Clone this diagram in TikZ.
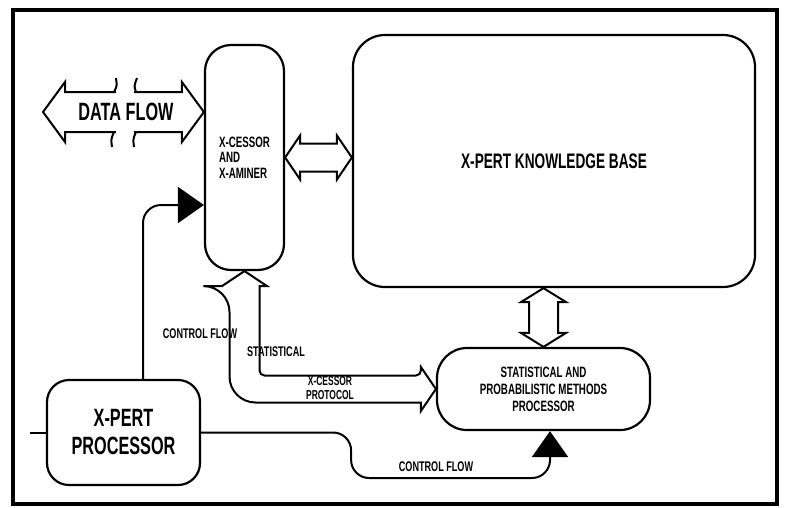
\documentclass[tikz,border=0pt]{standalone}
\usepackage{fontspec}
\setmainfont{Liberation Sans}[FakeStretch=0.65]
\usetikzlibrary{arrows.meta,calc,positioning}

% hollow double arrow: start tip, end tip, half body, half head, head length
\newcommand{\hollowarrow}[5]{%
  \coordinate (ha1) at ($(#1)!#5!(#2)$);
  \coordinate (ha2) at ($(#2)!#5!(#1)$);
  \draw[hollow] (#1) -- ($(ha1)!#4!90:(#1)$) -- ($(ha1)!#3!90:(#1)$)
    -- ($(ha2)!#3!-90:(#2)$) -- ($(ha2)!#4!-90:(#2)$) -- (#2)
    -- ($(ha2)!#4!90:(#2)$) -- ($(ha2)!#3!90:(#2)$)
    -- ($(ha1)!#3!-90:(#1)$) -- ($(ha1)!#4!-90:(#1)$) -- cycle;}

\begin{document}
\begin{tikzpicture}[x=1pt, y=-1pt,
  box/.style={draw, line width=2.2pt, align=center, inner sep=0pt},
  hollow/.style={draw, line width=2pt},
  flow/.style={line width=2pt, -{Triangle[length=26pt, width=36pt]}},
  lbl/.style={font=\bfseries\fontsize{14pt}{14pt}\selectfont, align=center, inner sep=1pt}
]
\useasboundingbox (0,0) rectangle (786,507);
\draw[line width=4.5pt] (13,10) rectangle (777,504);

\node[box, rounded corners=26pt, minimum width=79pt, minimum height=225pt, align=left,
  font=\bfseries\fontsize{15pt}{15.5pt}\selectfont] (xcessor) at (244.5,157.5) {X-CESSOR\\AND\\X-AMINER};
\node[box, rounded corners=32pt, minimum width=402pt, minimum height=252pt,
  font=\bfseries\fontsize{21pt}{22pt}\selectfont] (kb) at (554,161) {X-PERT KNOWLEDGE BASE};
\node[box, rounded corners=30pt, minimum width=213pt, minimum height=82pt,
  font=\bfseries\fontsize{15pt}{17pt}\selectfont] (stat) at (543.5,389) {STATISTICAL AND\\PROBABILISTIC METHODS\\PROCESSOR};
\node[box, rounded corners=22pt, minimum width=153pt, minimum height=105pt,
  font=\bfseries\fontsize{25pt}{28pt}\selectfont] (proc) at (123.5,432.5) {X-PERT\\PROCESSOR};

% data flow
\coordinate (dataend) at (43,112);
\coordinate (datatip) at (xcessor.west |- dataend);
\hollowarrow{dataend}{datatip}{20pt}{30pt}{22pt}
\fill[white] (116,86) rectangle (134,139);
\draw[line width=2pt] (114,92) .. controls (117,86) .. (116,78);
\draw[line width=2pt] (136,92) .. controls (134,86) .. (137,78);
\draw[line width=2pt] (114,132) .. controls (111,139) .. (112,147);
\draw[line width=2pt] (136,132) .. controls (133,139) .. (134,147);
\node[font=\bfseries\fontsize{25pt}{25pt}\selectfont] (datalbl) at (126,112) {DATA FLOW};

% knowledge base links
\coordinate (kbtip) at (xcessor.east -| kb.west);
\hollowarrow{xcessor.east}{kbtip}{14pt}{22pt}{15pt}
\coordinate (kbbot) at (stat.north |- kb.south);
\hollowarrow{kbbot}{stat.north}{14.5pt}{22.5pt}{14pt}

% protocol
\draw[hollow] (xcessor.south) -- ++(22.5,15) -- ++(-7.5,0)
  [rounded corners=5pt] |- ([xshift=-15pt, yshift=13.5pt]stat.west) [sharp corners]
  -- ++(0,-8.5) -- (stat.west) -- ([xshift=-15pt, yshift=-22pt]stat.west) -- ++(0,-8.5)
  [rounded corners=26pt] -| ([xshift=-15pt, yshift=-15pt]xcessor.south) [sharp corners]
  -- ++(-7.5,0) -- cycle;
\node[lbl] (statlbl) at (276,352) {STATISTICAL};
\node[lbl, font=\bfseries\fontsize{13pt}{14pt}\selectfont] (protlbl) at (330,388) {X-CESSOR\\PROTOCOL};

% control
\coordinate (procin) at (30,432.5);
\draw[line width=2pt] (procin) -- (proc.west);
\draw[flow, rounded corners=18pt] ([xshift=19.5pt]proc.north) |- ([yshift=-47.5pt]xcessor.west);
\draw[flow, rounded corners=18pt] (proc.east) -- ++(150,0) -- ++(0,45.5) -| ([xshift=6.5pt]stat.south);
\node[lbl] (cfup) at (200,334) {CONTROL FLOW};
\node[lbl] (cfdown) at (436,467) {CONTROL FLOW};
\end{tikzpicture}
\end{document}
